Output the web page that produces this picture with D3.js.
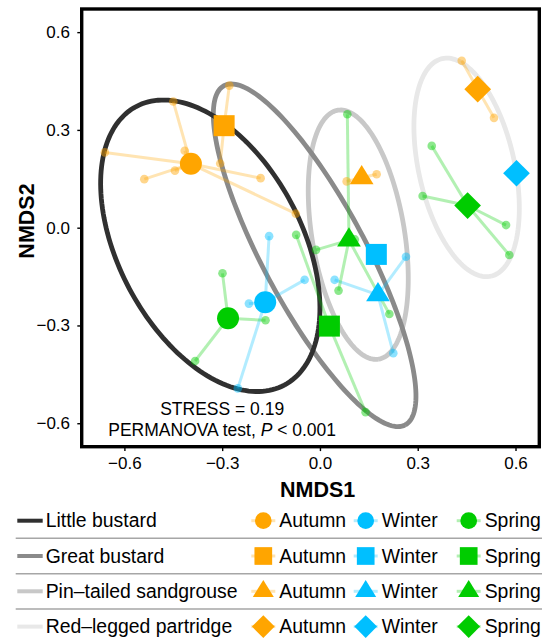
<!DOCTYPE html>
<html>
<head>
<meta charset="utf-8">
<script src="https://cdn.jsdelivr.net/npm/d3@7"></script>
<style>
  body { margin: 0; background: #fff; }
  text { font-family: "Liberation Sans", Arial, Helvetica, sans-serif; fill: #000; }
</style>
</head>
<body>
<div id="container"></div>
<script>
// Data ---------- ---------- ----------
const species = ["Little bustard", "Great bustard", "Pin–tailed sandgrouse", "Red–legged partridge"];
const seasons = ["Autumn", "Winter", "Spring"];
const xTicks = [-0.6, -0.3, 0, 0.3, 0.6];
const yTicks = [-0.6, -0.3, 0, 0.3, 0.6];

// group centroids: species, season, NMDS1, NMDS2
const centroids = [
  ["Little bustard", "Autumn", -0.396, 0.196],
  ["Little bustard", "Winter", -0.168, -0.229],
  ["Little bustard", "Spring", -0.282, -0.278],
  ["Great bustard", "Autumn", -0.294, 0.313],
  ["Great bustard", "Winter", 0.173, -0.082],
  ["Great bustard", "Spring", 0.029, -0.302],
  ["Pin–tailed sandgrouse", "Autumn", 0.128, 0.153],
  ["Pin–tailed sandgrouse", "Winter", 0.178, -0.206],
  ["Pin–tailed sandgrouse", "Spring", 0.089, -0.038],
  ["Red–legged partridge", "Autumn", 0.484, 0.425],
  ["Red–legged partridge", "Winter", 0.603, 0.167],
  ["Red–legged partridge", "Spring", 0.453, 0.068]
];

// site scores: species, season, NMDS1, NMDS2
const sites = [
  ["Little bustard", "Autumn", -0.450, 0.387],
  ["Little bustard", "Autumn", -0.415, 0.236],
  ["Little bustard", "Autumn", -0.660, 0.231],
  ["Little bustard", "Autumn", -0.539, 0.149],
  ["Little bustard", "Autumn", -0.445, 0.175],
  ["Little bustard", "Autumn", -0.182, 0.152],
  ["Little bustard", "Autumn", -0.074, 0.043],
  ["Little bustard", "Winter", -0.156, -0.026],
  ["Little bustard", "Winter", -0.218, -0.233],
  ["Little bustard", "Winter", -0.047, -0.160],
  ["Little bustard", "Winter", -0.252, -0.493],
  ["Little bustard", "Spring", -0.299, -0.140],
  ["Little bustard", "Spring", -0.167, -0.284],
  ["Little bustard", "Spring", -0.383, -0.409],
  ["Great bustard", "Autumn", -0.278, 0.436],
  ["Great bustard", "Autumn", -0.306, 0.197],
  ["Great bustard", "Spring", -0.073, -0.022],
  ["Great bustard", "Spring", 0.140, -0.566],
  ["Pin–tailed sandgrouse", "Autumn", 0.082, 0.142],
  ["Pin–tailed sandgrouse", "Autumn", 0.174, 0.164],
  ["Pin–tailed sandgrouse", "Winter", 0.045, -0.160],
  ["Pin–tailed sandgrouse", "Winter", 0.264, -0.089],
  ["Pin–tailed sandgrouse", "Winter", 0.225, -0.385],
  ["Pin–tailed sandgrouse", "Spring", 0.084, 0.348],
  ["Pin–tailed sandgrouse", "Spring", -0.012, -0.068],
  ["Pin–tailed sandgrouse", "Spring", 0.057, -0.193],
  ["Pin–tailed sandgrouse", "Spring", 0.213, -0.265],
  ["Pin–tailed sandgrouse", "Spring", 0.107, -0.036],
  ["Red–legged partridge", "Autumn", 0.435, 0.512],
  ["Red–legged partridge", "Autumn", 0.534, 0.337],
  ["Red–legged partridge", "Spring", 0.343, 0.251],
  ["Red–legged partridge", "Spring", 0.315, 0.097],
  ["Red–legged partridge", "Spring", 0.571, 0.008],
  ["Red–legged partridge", "Spring", 0.581, -0.084]
];

// species ellipses: species, centre NMDS1, centre NMDS2, semi-axis a, semi-axis b, angle (deg)
const ellipses = [
  ["Red–legged partridge", 0.450, 0.185, 0.342, 0.147, -77.4],
  ["Pin–tailed sandgrouse", 0.1175, -0.0215, 0.387, 0.142, -80.7],
  ["Great bustard", -0.0163, -0.0847, 0.590, 0.158, -61.9],
  ["Little bustard", -0.3365, -0.0555, 0.484, 0.281, -62.0]
];

// annotation: NMDS1, NMDS2, text
const notes = [[-0.3, -0.555, "STRESS = 0.19"], [-0.3, -0.620, "PERMANOVA test, "]];

// Hard code values ---------- ---------- ----------
let canvasW = 542, canvasH = 639;
let seasonColor = { Autumn: "#FFA500", Winter: "#00BFFF", Spring: "#00CC00" };
let speciesColor = ["#303030", "#8a8a8a", "#c8c8c8", "#e8e8e8"];
let speciesShape = ["circle", "square", "triangle", "diamond"];
let plotSize = { circle: 22, square: 21, triangle: 23.7, diamond: 26.7 };
let legendSize = { circle: 16.7, square: 17.7, triangle: 21, diamond: 22.7 };
let fmt = d3.format(".1f");

function shapePath(type, s) {
  if (type === "circle") { let r = s / 2; return `M${r},0A${r},${r},0,1,1,${-r},0A${r},${r},0,1,1,${r},0Z`; }
  if (type === "square") { let h = s / 2; return `M${-h},${-h}H${h}V${h}H${-h}Z`; }
  if (type === "triangle") { let h = s * 0.815; return `M0,${-2 * h / 3}L${s / 2},${h / 3}L${-s / 2},${h / 3}Z`; }
  let d = s / 2; return `M0,${-d}L${d},0L0,${d}L${-d},0Z`;
}

let svg = d3.select("#container").append("svg").attr("width", canvasW).attr("height", canvasH);
let x = d3.scaleLinear().domain([-0.731, 0.673]).range([81.7, 539.3]);
let y = d3.scaleLinear().domain([-0.672, 0.671]).range([446.7, 9]);

// Axes
let yAxis = svg.append("g").attr("transform", "translate(" + x.range()[0] + ",0)")
  .call(d3.axisLeft(y).tickValues(yTicks).tickSize(4.4).tickPadding(7.3).tickFormat(fmt));
let xAxis = svg.append("g").attr("transform", "translate(0," + y.range()[0] + ")")
  .call(d3.axisBottom(x).tickValues(xTicks).tickSize(4.4).tickPadding(5.6).tickFormat(fmt));
[xAxis, yAxis].forEach(a => {
  a.select(".domain").remove();
  a.attr("font-family", null).attr("font-size", null);
  a.selectAll("line").attr("stroke", "#000").attr("stroke-width", 1.4);
  a.selectAll("text").attr("font-size", "17px").attr("fill", "#000");
});
svg.append("text").attr("x", 317.7).attr("y", 496.5).attr("text-anchor", "middle")
  .attr("font-size", "21.5px").attr("font-weight", "bold").text("NMDS1");
svg.append("text").attr("transform", "translate(26,221) rotate(-90)").attr("dy", "0.35em")
  .attr("text-anchor", "middle").attr("font-size", "21.5px").attr("font-weight", "bold").text("NMDS2");

// Ellipses
let ellipseLine = d3.line().x(d => x(d[0])).y(d => y(d[1]));
ellipses.forEach(e => {
  let phi = e[5] * Math.PI / 180;
  let pts = d3.range(0, 361, 2).map(t => {
    let r = t * Math.PI / 180;
    return [e[1] + e[3] * Math.cos(phi) * Math.cos(r) - e[4] * Math.sin(phi) * Math.sin(r),
            e[2] + e[3] * Math.sin(phi) * Math.cos(r) + e[4] * Math.cos(phi) * Math.sin(r)];
  });
  svg.append("path").attr("d", ellipseLine(pts)).attr("fill", "none")
    .attr("stroke", speciesColor[species.indexOf(e[0])]).attr("stroke-width", 4.8);
});

// Spider lines and site points
let key = d => d[0] + "|" + d[1];
let centroidMap = new Map(centroids.map(d => [key(d), d]));
svg.append("g").selectAll("line").data(sites).join("line")
  .attr("x1", d => x(centroidMap.get(key(d))[2])).attr("y1", d => y(centroidMap.get(key(d))[3]))
  .attr("x2", d => x(d[2])).attr("y2", d => y(d[3]))
  .attr("stroke", d => seasonColor[d[1]]).attr("stroke-opacity", 0.3).attr("stroke-width", 3);
svg.append("g").selectAll("circle").data(sites).join("circle")
  .attr("cx", d => x(d[2])).attr("cy", d => y(d[3])).attr("r", 4.3)
  .attr("fill", d => seasonColor[d[1]]).attr("fill-opacity", 0.45);

// Centroids
svg.append("g").selectAll("path").data(centroids).join("path")
  .attr("transform", d => "translate(" + x(d[2]) + "," + y(d[3]) + ")")
  .attr("d", d => shapePath(speciesShape[species.indexOf(d[0])], plotSize[speciesShape[species.indexOf(d[0])]]))
  .attr("fill", d => seasonColor[d[1]]);

// Annotation
svg.append("text").attr("x", x(notes[0][0])).attr("y", y(notes[0][1])).attr("dy", "0.35em")
  .attr("text-anchor", "middle").attr("font-size", "17.5px").text(notes[0][2]);
let note2 = svg.append("text").attr("x", x(notes[1][0])).attr("y", y(notes[1][1])).attr("dy", "0.35em")
  .attr("text-anchor", "middle").attr("font-size", "17.5px");
note2.append("tspan").text(notes[1][2]);
note2.append("tspan").attr("font-style", "italic").text("P");
note2.append("tspan").text(" < 0.001");

// Panel border
svg.append("rect").attr("x", x.range()[0]).attr("y", y.range()[1])
  .attr("width", x.range()[1] - x.range()[0]).attr("height", y.range()[0] - y.range()[1])
  .attr("fill", "none").attr("stroke", "#000").attr("stroke-width", 3.4);

// Legend
let rowY = i => 520.7 + i * 35.3;
let seasonX = [263.3, 365.7, 468.7];
let lg = svg.append("g");
species.forEach((sp, i) => {
  let yy = rowY(i);
  if (i > 0) lg.append("line").attr("x1", 15.7).attr("x2", canvasW).attr("y1", yy - 17.65).attr("y2", yy - 17.65)
    .attr("stroke", "#a6a6a6").attr("stroke-width", 1.5);
  lg.append("line").attr("x1", 17.3).attr("x2", 42.7).attr("y1", yy).attr("y2", yy)
    .attr("stroke", speciesColor[i]).attr("stroke-width", 4);
  lg.append("text").attr("x", 45.7).attr("y", yy + 6.5).attr("font-size", "19.4px").text(sp);
  seasons.forEach((se, j) => {
    let cx = seasonX[j];
    lg.append("line").attr("x1", cx - 12).attr("x2", cx + 12).attr("y1", yy).attr("y2", yy)
      .attr("stroke", seasonColor[se]).attr("stroke-opacity", 0.3).attr("stroke-width", 3);
    lg.append("path").attr("transform", "translate(" + cx + "," + yy + ")")
      .attr("d", shapePath(speciesShape[i], legendSize[speciesShape[i]])).attr("fill", seasonColor[se]);
    lg.append("text").attr("x", cx + 16).attr("y", yy + 6.5).attr("font-size", "19.4px").text(se);
  });
});
</script>
</body>
</html>
